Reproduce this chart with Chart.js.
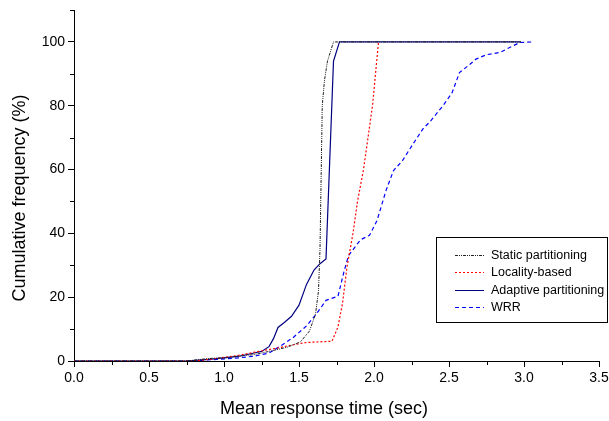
<!DOCTYPE html>
<html>
<head>
<meta charset="utf-8">
<script src="https://cdn.jsdelivr.net/npm/chart.js@4.4.1/dist/chart.umd.min.js"></script>
<style>
  body { margin: 0; background: #fff; }
  #wrap { width: 609px; height: 421px; position: relative; }
</style>
</head>
<body>
<div id="wrap"><canvas id="cdfChart"></canvas></div>
<script>
// series (x = mean response time in sec, y = cumulative %)
const staticX = [0, 0.75, 0.9, 1.0, 1.1, 1.2, 1.3, 1.42, 1.51, 1.57, 1.61, 1.63, 1.64, 1.655, 1.67, 1.69, 1.73, 2.98];
const staticY = [0, 0, 0.8, 1, 1.5, 2, 3, 4.3, 6, 9.4, 14.7, 22, 35, 80, 88, 94, 100, 100];

const localityX = [0, 0.8, 0.95, 1.1, 1.22, 1.35, 1.45, 1.55, 1.72, 1.76, 1.79, 1.82, 1.86, 1.89, 1.93, 1.96, 1.99, 2.01, 2.03];
const localityY = [0, 0, 0.8, 1.8, 2.9, 4, 5, 5.8, 6.2, 10.7, 18, 29.5, 40, 50, 60, 70, 80, 90, 100];

const adaptiveX = [0, 0.75, 0.9, 1.0, 1.1, 1.2, 1.25, 1.3, 1.33, 1.36, 1.4, 1.45, 1.5, 1.55, 1.6, 1.64, 1.68, 1.73, 1.77, 2.98];
const adaptiveY = [0, 0, 0.5, 1, 1.5, 2.5, 3, 4.5, 7, 10.5, 12, 14, 17.5, 24, 28.5, 30.5, 32, 94, 100, 100];

const wrrX = [0, 0.75, 0.95, 1.1, 1.2, 1.3, 1.37, 1.46, 1.55, 1.62, 1.68, 1.76, 1.8, 1.83, 1.91, 1.97, 2.02, 2.08, 2.13, 2.19, 2.26, 2.33, 2.37, 2.46, 2.52, 2.57, 2.64, 2.68, 2.75, 2.84, 2.97, 3.06];
const wrrY = [0, 0, 0.5, 1, 1.5, 2.5, 4.5, 7.3, 11, 15, 19, 20.3, 28, 33, 38, 39.4, 44, 53.4, 59.7, 62.8, 68, 73, 74.8, 80, 84, 90.4, 93, 94.6, 96, 96.7, 99.8, 100];

const seriesNames = ['Static partitioning', 'Locality-based', 'Adaptive partitioning', 'WRR'];
const seriesColors = ['#222222', '#ff0000', '#000080', '#0000ff'];
const seriesDash = [[3, 1, 1, 1, 1, 1], [2, 2], [], [4, 3]];
const xTicks = [0, 0.5, 1.0, 1.5, 2.0, 2.5, 3.0, 3.5];
const yTicks = [0, 20, 40, 60, 80, 100];

const FONT = '"Liberation Sans", Arial, sans-serif';

function pts(xs, ys) {
    return xs.map((x, i) => ({ x: x, y: ys[i] }));
}

// minor ticks, axis titles and the boxed legend
const extras = {
    id: 'extras',
    afterDraw(chart) {
        const ctx = chart.ctx;
        const xs = chart.scales.x, ys = chart.scales.y;
        ctx.save();
        ctx.strokeStyle = '#000';
        ctx.lineWidth = 1;
        ctx.beginPath();
        for (let v = 0.25; v < 3.5; v += 0.5) {
            const px = Math.round(xs.getPixelForValue(v)) + 0.5;
            ctx.moveTo(px, ys.bottom);
            ctx.lineTo(px, ys.bottom + 4);
        }
        for (let v = 10; v <= 110; v += 20) {
            const py = Math.round(ys.getPixelForValue(v)) + 0.5;
            ctx.moveTo(xs.left, py);
            ctx.lineTo(xs.left - 4, py);
        }
        ctx.stroke();

        // axis titles
        ctx.fillStyle = '#000';
        ctx.font = '18px ' + FONT;
        ctx.textAlign = 'center';
        ctx.textBaseline = 'middle';
        ctx.fillText('Mean response time (sec)', 324, 409);
        ctx.translate(20, 198);
        ctx.rotate(-Math.PI / 2);
        ctx.fillText('Cumulative frequency (%)', 0, 0);
        ctx.restore();

        // legend
        ctx.save();
        ctx.strokeStyle = '#000';
        ctx.lineWidth = 1;
        ctx.strokeRect(436.5, 237.5, 171, 85);
        ctx.font = '12.5px ' + FONT;
        ctx.textBaseline = 'middle';
        ctx.textAlign = 'left';
        const rows = [255.5, 272.5, 290.5, 307.5];
        seriesNames.forEach((name, i) => {
            ctx.strokeStyle = seriesColors[i];
            ctx.lineWidth = 1;
            ctx.setLineDash(seriesDash[i]);
            ctx.beginPath();
            ctx.moveTo(455, rows[i]);
            ctx.lineTo(484, rows[i]);
            ctx.stroke();
            ctx.setLineDash([]);
            ctx.fillStyle = '#000';
            ctx.fillText(name, 491, rows[i]);
        });
        ctx.restore();
    }
};

const ctx = document.getElementById('cdfChart').getContext('2d');
const cdfChart = new Chart(ctx, {
    type: 'line',
    data: {
        datasets: [{
            label: seriesNames[0],
            data: pts(staticX, staticY),
            borderColor: seriesColors[0],
            borderWidth: 1,
            borderDash: seriesDash[0]
        }, {
            label: seriesNames[1],
            data: pts(localityX, localityY),
            borderColor: seriesColors[1],
            borderWidth: 1.2,
            borderDash: seriesDash[1]
        }, {
            label: seriesNames[2],
            data: pts(adaptiveX, adaptiveY),
            borderColor: seriesColors[2],
            borderWidth: 1.2,
            borderDash: seriesDash[2]
        }, {
            label: seriesNames[3],
            data: pts(wrrX, wrrY),
            borderColor: seriesColors[3],
            borderWidth: 1.2,
            borderDash: seriesDash[3]
        }]
    },
    options: {
        responsive: true,
        maintainAspectRatio: false,
        animation: false,
        events: [],
        elements: {
            point: { radius: 0 },
            line: { tension: 0, fill: false }
        },
        layout: {
            padding: { top: 10, right: 10, left: 0, bottom: 0 }
        },
        plugins: {
            legend: { display: false },
            tooltip: { enabled: false }
        },
        scales: {
            x: {
                type: 'linear',
                min: 0,
                max: 3.5,
                afterFit: (s) => { s.height = 60; s.paddingLeft = 0; s.paddingRight = 0; },
                afterBuildTicks: (s) => { s.ticks = xTicks.map(v => ({ value: v })); },
                ticks: {
                    color: '#000',
                    padding: 3,
                    font: { family: FONT, size: 14 },
                    callback: (v) => Number(v).toFixed(1)
                },
                grid: { drawOnChartArea: false, tickLength: 6, color: '#000' },
                border: { display: true, color: '#000', width: 1 }
            },
            y: {
                min: 0,
                max: 110,
                afterFit: (s) => { s.width = 74; s.paddingTop = 0; s.paddingBottom = 0; },
                afterBuildTicks: (s) => { s.ticks = yTicks.map(v => ({ value: v })); },
                ticks: {
                    color: '#000',
                    padding: 3,
                    font: { family: FONT, size: 14 }
                },
                grid: { drawOnChartArea: false, tickLength: 6, color: '#000' },
                border: { display: true, color: '#000', width: 1 }
            }
        }
    },
    plugins: [extras]
});
</script>
</body>
</html>
